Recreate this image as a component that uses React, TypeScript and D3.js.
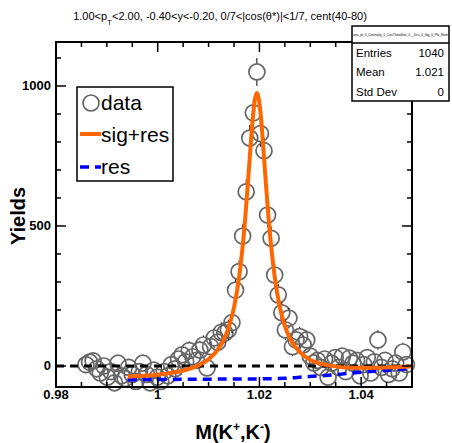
import React from 'react';
import * as d3 from 'd3';

const massBins = [
  0.9859, 0.9866, 0.9873, 0.9880, 0.9887, 0.9894, 0.9901, 0.9908, 0.9915, 0.9922,
  0.9929, 0.9936, 0.9943, 0.9950, 0.9957, 0.9964, 0.9971, 0.9978, 0.9985, 0.9992,
  0.9999, 1.0006, 1.0013, 1.0020, 1.0027, 1.0034, 1.0041, 1.0048, 1.0055, 1.0062,
  1.0069, 1.0076, 1.0083, 1.0090, 1.0097, 1.0104, 1.0111, 1.0118, 1.0125, 1.0132,
  1.0139, 1.0146, 1.0153, 1.0160, 1.0167, 1.0174, 1.0181, 1.0188, 1.0195,
  1.0202, 1.0209, 1.0216, 1.0223, 1.0230, 1.0237, 1.0244, 1.0251, 1.0258, 1.0265,
  1.0272, 1.0279, 1.0286, 1.0293, 1.0300, 1.0307, 1.0314, 1.0321, 1.0328, 1.0335,
  1.0342, 1.0349, 1.0356, 1.0363, 1.0370, 1.0377, 1.0384, 1.0391, 1.0398, 1.0405,
  1.0412, 1.0419, 1.0426, 1.0433, 1.0440, 1.0447, 1.0454, 1.0461, 1.0468, 1.0475,
  1.0482, 1.0489,
];

const yields = [
  5, 14, 18, -10, -25, 0, -40, -20, -60, 10,
  -35, -45, -5, -30, -55, -20, 10, -30, -60, -15,
  -40, -55, -20, -35, 5, -10, 25, 40, 15, 55,
  33, 20, 57, 75, -7, 69, 100, 85, 120, 118,
  129, 155, 271, 337, 464, 622, 814, 904, 1050,
  830, 769, 539, 456, 325, 254, 190, 129, 171, 69,
  93, 105, 75, 93, 35, 11, 20, -5, 25, -40,
  10, 30, -5, 35, -20, 28, 10, 20, -35, 5,
  30, -25, 15, 93, -5, 20, -30, -10, 10, -25,
  50, 5,
];

const yieldErrors = [
  30, 30, 31, 30, 29, 30, 29, 30, 28, 31,
  29, 29, 30, 29, 28, 30, 31, 29, 28, 30,
  29, 28, 30, 29, 31, 30, 32, 32, 31, 33,
  32, 32, 33, 34, 31, 34, 35, 34, 36, 36,
  36, 37, 39, 40, 42, 44, 47, 48, 50,
  47, 46, 43, 42, 40, 39, 37, 36, 37, 34,
  34, 35, 34, 34, 32, 31, 32, 30, 32, 29,
  31, 32, 30, 32, 30, 32, 31, 31, 29, 30,
  32, 29, 31, 35, 30, 31, 29, 30, 31, 29,
  33, 30,
];

const fitMass = [
  0.9941, 0.998, 1.002, 1.005, 1.008, 1.010, 1.012, 1.013, 1.014, 1.015,
  1.016, 1.017, 1.018, 1.0183, 1.0187, 1.0191, 1.0195, 1.0199, 1.0203, 1.0207,
  1.021, 1.022, 1.023, 1.024, 1.025, 1.026, 1.027, 1.029, 1.031, 1.034,
  1.037, 1.040, 1.043, 1.046, 1.0498,
];
const fitSigRes = [
  -38.4, -34.3, -26.5, -16.2, 2.1, 24.1, 62.9, 94.3, 140.2, 209.3,
  316.9, 484.4, 719.9, 795.6, 886.5, 951, 975, 951, 886.8, 795.9,
  720.3, 485.4, 318.5, 211.5, 143.4, 99, 69.1, 33.1, 13.6, 1.3,
  -5.3, -5.9, -5.9, -4.8, -1.5,
];

const resMass = [0.9941, 1.010, 1.020, 1.025, 1.028, 1.032, 1.036, 1.040, 1.044, 1.0498];
const resValues = [-49, -47, -46, -44, -40, -35, -29, -22, -17, -9];

const xTickValues = [0.98, 1.0, 1.02, 1.04];
const xTickLabels = ['0.98', '1', '1.02', '1.04'];
const yTickValues = [0, 500, 1000];
const yTickLabels = ['0', '500', '1000'];

const statsLabels = ['Entries', 'Mean', 'Std Dev'];
const statsValues = ['1040', '1.021', '0'];
const statsTitle = 'ana_pt_0_Centrality_0_CosThetaStar_0__Dca_0_Sig_0_Phi_Nom';
const legendLabels = ['data', 'sig+res', 'res'];

const FONT = 'Liberation Sans, Arial, Helvetica, sans-serif';

export default function App() {
  const W = 452, H = 443;
  const L = 56, R = 412, T = 42, B = 387;
  const x = d3.scaleLinear().domain([0.98, 1.05]).range([L, R]);
  const y = d3.scaleLinear().domain([-75, 1157]).range([B, T]);

  const xMinor = d3.range(0, 15).map((i) => 0.98 + i * 0.005).filter((v) => v < 1.0501);
  const yMinor = d3.range(0, 12).map((i) => i * 100);

  const line = d3
    .line<[number, number]>()
    .x((d) => x(d[0]))
    .y((d) => y(d[1]))
    .curve(d3.curveMonotoneX);

  const fitPts: [number, number][] = fitMass.map((m, i) => [m, fitSigRes[i]]);
  const resPts: [number, number][] = resMass.map((m, i) => [m, resValues[i]]);
  const r = 8;

  return (
    <svg
      width={W}
      height={H}
      style={{ position: 'absolute', left: 0, top: 0, background: '#fff' }}
      fontFamily={FONT}
    >
      <rect x={0} y={0} width={W} height={H} fill="#fff" />
      {/* title */}
      <text x={220} y={20} fontSize={11} textAnchor="middle" fill="#000">
        1.00&lt;p<tspan dy={5} fontSize={8}>T</tspan>
        <tspan dy={-5}>&lt;2.00, -0.40&lt;y&lt;-0.20, 0/7&lt;|cos(θ*)|&lt;1/7, cent(40-80)</tspan>
      </text>

      {/* data points */}
      <g>
        {massBins.map((m, i) => {
          const cx = x(m);
          const cy = y(yields[i]);
          const yTop = y(yields[i] + yieldErrors[i]);
          const yBot = y(yields[i] - yieldErrors[i]);
          return (
            <g key={i}>
              {cy - yTop > r + 1 && (
                <line x1={cx} x2={cx} y1={yTop} y2={cy - r} stroke="#000" strokeWidth={1} />
              )}
              {yBot - cy > r + 1 && (
                <line x1={cx} x2={cx} y1={cy + r} y2={yBot} stroke="#000" strokeWidth={1} />
              )}
              <circle cx={cx} cy={cy} r={r} fill="none" stroke="#666" strokeWidth={1.7} />
            </g>
          );
        })}
      </g>

      {/* zero line */}
      <line x1={L} x2={R} y1={y(0)} y2={y(0)} stroke="#000" strokeWidth={3} strokeDasharray="8,6" />
      {/* res */}
      <path d={line(resPts) || ''} fill="none" stroke="#0000ff" strokeWidth={3.5} strokeDasharray="9,6" />
      {/* sig+res */}
      <path d={line(fitPts) || ''} fill="none" stroke="#ff6600" strokeWidth={4} strokeLinejoin="round" />

      {/* frame */}
      <rect x={L} y={T} width={R - L} height={B - T} fill="none" stroke="#000" strokeWidth={2} />
      {/* x ticks */}
      {xMinor.map((v, i) => {
        const major = xTickValues.some((t) => Math.abs(t - v) < 1e-6);
        const len = major ? 10 : 5;
        return (
          <g key={'xt' + i}>
            <line x1={x(v)} x2={x(v)} y1={B} y2={B - len} stroke="#000" strokeWidth={1.5} />
            <line x1={x(v)} x2={x(v)} y1={T} y2={T + len} stroke="#000" strokeWidth={1.5} />
          </g>
        );
      })}
      {yMinor.map((v, i) => {
        const major = yTickValues.includes(v);
        const len = major ? 10 : 5;
        return (
          <g key={'yt' + i}>
            <line x1={L} x2={L + len} y1={y(v)} y2={y(v)} stroke="#000" strokeWidth={1.5} />
            <line x1={R} x2={R - len} y1={y(v)} y2={y(v)} stroke="#000" strokeWidth={1.5} />
          </g>
        );
      })}
      {xTickValues.map((v, i) => (
        <text key={'xl' + i} x={x(v)} y={399} fontSize={13} fontWeight="bold" textAnchor="middle">
          {xTickLabels[i]}
        </text>
      ))}
      {yTickValues.map((v, i) => (
        <text key={'yl' + i} x={51} y={y(v) + 4.5} fontSize={13} fontWeight="bold" textAnchor="end">
          {yTickLabels[i]}
        </text>
      ))}

      {/* axis titles */}
      <text
        transform="translate(25,216) rotate(-90)"
        fontSize={20}
        fontWeight="bold"
        textAnchor="middle"
      >
        Yields
      </text>
      <text x={233} y={439} fontSize={20} fontWeight="bold" textAnchor="middle">
        M(K<tspan dy={-8} fontSize={12}>+</tspan>
        <tspan dy={8}>,K</tspan>
        <tspan dy={-8} fontSize={12}>-</tspan>
        <tspan dy={8}>)</tspan>
      </text>

      {/* legend */}
      <rect x={77} y={87} width={96} height={94} fill="#fff" stroke="#000" strokeWidth={1.5} />
      <circle cx={91} cy={103} r={r} fill="none" stroke="#666" strokeWidth={1.7} />
      <line x1={80} x2={101} y1={134} y2={134} stroke="#ff6600" strokeWidth={4} />
      <line x1={80} x2={101} y1={167} y2={167} stroke="#0000ff" strokeWidth={3.5} strokeDasharray="9,6" />
      {legendLabels.map((l, i) => (
        <text key={'lg' + i} x={101} y={110 + i * 32} fontSize={21}>
          {l}
        </text>
      ))}

      {/* stats box */}
      <rect x={352} y={26} width={97} height={75} fill="#fff" stroke="#000" strokeWidth={1.5} />
      <line x1={352} x2={449} y1={43} y2={43} stroke="#000" strokeWidth={1.5} />
      <text x={400.5} y={36} fontSize={3.2} textAnchor="middle">
        {statsTitle}
      </text>
      {statsLabels.map((l, i) => (
        <g key={'st' + i}>
          <text x={356} y={57 + i * 19.3} fontSize={11.5}>
            {l}
          </text>
          <text x={444} y={57 + i * 19.3} fontSize={11.5} textAnchor="end">
            {statsValues[i]}
          </text>
        </g>
      ))}
    </svg>
  );
}
